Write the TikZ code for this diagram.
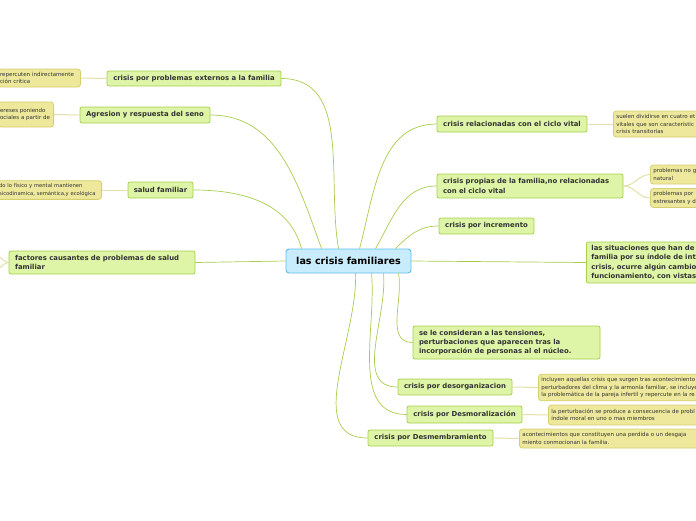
\documentclass[tikz,border=0pt]{standalone}
\usepackage{fontspec}
\setmainfont{DejaVu Sans}
\usetikzlibrary{positioning}
\definecolor{TopicFill}{RGB}{222,245,168}
\definecolor{TopicLine}{RGB}{168,207,76}
\definecolor{RootFill}{RGB}{200,236,251}
\definecolor{RootLine}{RGB}{95,190,235}
\definecolor{NoteFill}{RGB}{237,232,155}
\definecolor{NoteLine}{RGB}{214,207,110}
\definecolor{BranchGreen}{RGB}{168,204,76}
\definecolor{NoteLink}{RGB}{226,224,168}
\definecolor{InkGray}{RGB}{51,51,51}

\begin{document}
\begin{tikzpicture}[x=1pt,y=-1pt,
  topic/.style={draw=TopicLine,fill=TopicFill,rounded corners=2pt,line width=0.8pt,
                text=InkGray,font=\fontsize{6.9}{9.4}\selectfont\bfseries,
                inner sep=3pt,minimum height=16pt},
  note/.style={draw=NoteLine,fill=NoteFill,rounded corners=3pt,line width=0.8pt,
               text=InkGray,font=\fontsize{5.5}{7.6}\selectfont,inner sep=3pt,align=left},
  brn/.style={BranchGreen,line width=0.7pt},
  lnk/.style={NoteLink,line width=1pt},
]
\useasboundingbox (0,0) rectangle (696,520);
\clip (0,0) rectangle (696,520);

\node[draw=RootLine,fill=RootFill,rounded corners=3pt,line width=0.9pt,text=black,
      font=\fontsize{9.6}{11}\selectfont\bfseries,minimum width=125pt,minimum height=24pt]
  (root) at (348.5,261) {las crisis familiares};

% left side
\node[topic,minimum width=174pt,minimum height=15pt] (ext) at (194,78.5)
  {crisis por problemas externos a la familia};
\node[topic,minimum width=130pt] (agr) at (145,115) {Agresion y respuesta del seno};
\node[topic,minimum width=65pt] (sal) at (160.5,190) {salud familiar};
\node[topic,align=left,text width=174pt,inner xsep=6pt,minimum height=23pt] (fac) at (102,262.5)
  {factores causantes de problemas de salud\\familiar};

\node[note,anchor=east,text width=78.5pt,inner xsep=2pt,minimum height=18pt] (n1) at (81,78)
  {repercuten indirectamente\\ción crítica};
\node[note,anchor=east,text width=51.5pt,inner xsep=2pt,minimum height=25pt] (n2) at (54,114.5)
  {ereses poniendo\\ociales a partir de};
\node[note,anchor=east,text width=100.5pt,inner xsep=2pt,minimum height=18pt,
      font=\fontsize{5.25}{7.4}\selectfont] (n3) at (102,190)
  {do lo físico y mental mantienen\\sicodinamica, semántica,y ecológica};

% right side
\node[topic,minimum width=150pt] (rel) at (512,124) {crisis relacionadas con el ciclo vital};
\node[topic,align=left,text width=174pt,inner xsep=6pt,minimum height=24pt] (pro) at (530,186)
  {crisis propias de la familia,no relacionadas\\con el ciclo vital};
\node[topic,minimum width=95pt] (inc) at (486.5,226) {crisis por incremento};
\node[topic,anchor=west,align=left,text width=130pt,inner xsep=5pt,minimum height=41pt] (sit) at (586,262.5)
  {las situaciones que han de\\familia por su índole de int\\crisis, ocurre algún cambio\\funcionamiento, con vistas};
\node[topic,align=left,text width=175pt,inner xsep=6pt,minimum height=33pt] (con) at (506.5,342.5)
  {se le consideran a las tensiones,\\perturbaciones que aparecen tras la\\incorporación de personas al el núcleo.};
\node[topic,minimum width=114pt] (des) at (455,387) {crisis por desorganizacion};
\node[topic,minimum width=115pt,minimum height=17pt] (mor) at (464.5,414.5) {crisis por Desmoralización};
\node[topic,minimum width=125pt] (mem) at (430.5,438) {crisis por Desmembramiento};

\node[note,anchor=west,text width=100pt,minimum height=26pt] (n4) at (613,124)
  {suelen dividirse en cuatro et\\vitales que son característic\\crisis transitorias};
\node[note,anchor=west,text width=60pt,minimum height=19pt] (n5) at (650,174.5)
  {problemas no g\\natural};
\node[note,anchor=west,text width=60pt,minimum height=18pt] (n6) at (650,198)
  {problemas por\\estresantes y d};
\node[note,anchor=west,text width=185pt,minimum height=25pt] (n7) at (538,387.5)
  {incluyen aquellas crisis que surgen tras acontecimiento\\perturbadores del clima y la armonía familiar, se incluye\\la problemática de la pareja infertil y repercute en la re};
\node[note,anchor=west,text width=170pt,minimum height=20pt] (n8) at (548,415)
  {la perturbación se produce a consecuencia de probl\\índole moral en uno o mas miembros};
\node[note,anchor=west,text width=185pt,minimum height=19pt] (n9) at (519,438.5)
  {acontecimientos que constituyen una perdida o un desgaja\\miento conmocionan la familia.};

\coordinate (facup) at (-4,256);
\coordinate (facdn) at (-4,269);

\draw[brn] ([xshift=16pt]root.north west) to[out=105,in=0] (sal.east);
\draw[brn] ([xshift=36pt]root.north west) to[out=110,in=0] (agr.east);
\draw[brn] ([xshift=53pt]root.north west) to[out=100,in=0] (ext.east);
\draw[brn] (root.west) -- (fac.east);
\draw[brn] ([xshift=74pt]root.north west) to[out=75,in=180] (rel.west);
\draw[brn] ([xshift=90pt]root.north west) to[out=60,in=180] (pro.west);
\draw[brn] ([xshift=110pt]root.north west) to[out=45,in=180] (inc.west);
\draw[brn] (root.east) -- (sit.west);
\draw[brn] ([xshift=113pt]root.south west) to[out=-80,in=180] (con.west);
\draw[brn] ([xshift=98pt]root.south west) to[out=-85,in=180] (des.west);
\draw[brn] ([xshift=86pt]root.south west) to[out=-85,in=180] (mor.west);
\draw[brn] ([xshift=70pt]root.south west) to[out=-88,in=180] (mem.west);

\draw[lnk] (ext.west) -- (n1.east);
\draw[lnk] (agr.west) -- (n2.east);
\draw[lnk] (sal.west) -- (n3.east);
\draw[lnk] (fac.west) to[out=180,in=0] (facup);
\draw[lnk] (fac.west) to[out=180,in=0] (facdn);
\draw[lnk] (rel.east) -- (n4.west);
\draw[lnk] (pro.east) to[out=0,in=180] (n5.west);
\draw[lnk] (pro.east) to[out=0,in=180] (n6.west);
\draw[lnk] (des.east) -- (n7.west);
\draw[lnk] (mor.east) -- (n8.west);
\draw[lnk] (mem.east) -- (n9.west);
\end{tikzpicture}
\end{document}
